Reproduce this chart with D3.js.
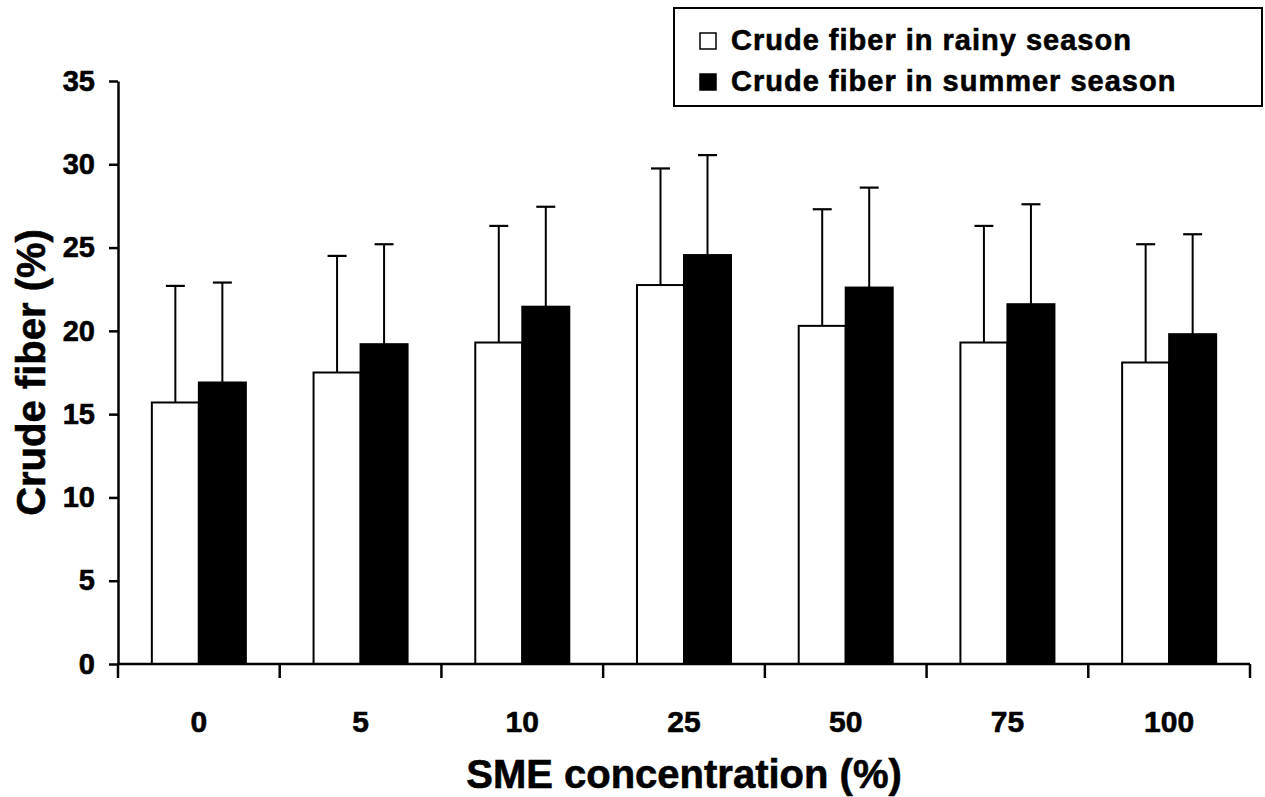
<!DOCTYPE html>
<html>
<head>
<meta charset="utf-8">
<script src="https://cdn.jsdelivr.net/npm/d3@7"></script>
<style>
  body { margin: 0; background: #fff; }
  text { font-family: "Liberation Sans", Arial, sans-serif; font-weight: bold; fill: #000; stroke: #000; stroke-width: 0.6px; }
</style>
</head>
<body>
<div id="chart"></div>
<script>
// chart data
var categories = ['0', '5', '10', '25', '50', '75', '100'];
var seriesNames = ['Crude fiber in rainy season', 'Crude fiber in summer season'];
var rainy = [15.7, 17.5, 19.3, 22.75, 20.3, 19.3, 18.1];
var rainyErr = [7.0, 7.0, 7.0, 7.0, 7.0, 7.0, 7.1];
var summer = [16.9, 19.2, 21.45, 24.55, 22.6, 21.6, 19.8];
var summerErr = [6.0, 6.0, 6.0, 6.0, 6.0, 6.0, 6.0];
var yTicks = [0, 5, 10, 15, 20, 25, 30, 35];

// size of page and plot area
var w = 1265;
var h = 797;
var plotL = 118, plotR = 1250, plotT = 81, plotB = 664;

var svg = d3.select('#chart')
    .append('svg')
    .attr('width', w)
    .attr('height', h);

// scales
var x0 = d3.scaleBand()
    .domain(categories)
    .range([plotL, plotR])
    .padding(0);

var x1 = d3.scaleBand()
    .domain(seriesNames)
    .range([0, x0.bandwidth()])
    .paddingInner(0)
    .paddingOuter(0.72);

var y = d3.scaleLinear()
    .domain([0, 35])
    .range([plotB, plotT]);

// build rows for bars
var rows = [];
categories.forEach(function (c, i) {
    rows.push({ cat: c, s: seriesNames[0], v: rainy[i], e: rainyErr[i], fill: '#fff' });
    rows.push({ cat: c, s: seriesNames[1], v: summer[i], e: summerErr[i], fill: '#000' });
});

// error bars (drawn first so bars sit over the stem)
var err = svg.append('g').attr('class', 'errors');
var capW = 19;
rows.forEach(function (d) {
    var cx = x0(d.cat) + x1(d.s) + x1.bandwidth() / 2;
    err.append('line')
        .attr('x1', cx).attr('x2', cx)
        .attr('y1', y(d.v)).attr('y2', y(d.v + d.e))
        .attr('stroke', '#000').attr('stroke-width', 2);
    err.append('line')
        .attr('x1', cx - capW / 2).attr('x2', cx + capW / 2)
        .attr('y1', y(d.v + d.e)).attr('y2', y(d.v + d.e))
        .attr('stroke', '#000').attr('stroke-width', 2.2);
});

// bars
svg.append('g').attr('class', 'bars')
    .selectAll('rect')
    .data(rows)
    .enter()
    .append('rect')
    .attr('x', function (d) { return x0(d.cat) + x1(d.s); })
    .attr('y', function (d) { return y(d.v); })
    .attr('width', x1.bandwidth())
    .attr('height', function (d) { return y(0) - y(d.v); })
    .attr('fill', function (d) { return d.fill; })
    .attr('stroke', '#000')
    .attr('stroke-width', 2);

// y axis
var yAxis = svg.append('g')
    .attr('transform', 'translate(' + plotL + ',0)')
    .call(d3.axisLeft(y).tickValues(yTicks).tickSize(9).tickSizeOuter(0).tickPadding(14));
yAxis.select('.domain').attr('stroke', '#000').attr('stroke-width', 2.5);
yAxis.selectAll('.tick line').attr('stroke', '#000').attr('stroke-width', 2.5);
yAxis.selectAll('.tick text')
    .attr('font-size', 29)
    .attr('font-family', '"Liberation Sans", Arial, sans-serif')
    .attr('font-weight', 'bold');

// x axis: line, boundary ticks and centred labels
var xAxis = svg.append('g').attr('class', 'x-axis');
xAxis.append('line')
    .attr('x1', plotL).attr('x2', plotR)
    .attr('y1', y(0)).attr('y2', y(0))
    .attr('stroke', '#000').attr('stroke-width', 2.5);
var bounds = categories.map(function (c) { return x0(c); }).concat([plotR]);
xAxis.selectAll('line.tk')
    .data(bounds)
    .enter()
    .append('line')
    .attr('class', 'tk')
    .attr('x1', function (d) { return d; }).attr('x2', function (d) { return d; })
    .attr('y1', y(0)).attr('y2', y(0) + 14)
    .attr('stroke', '#000').attr('stroke-width', 2.5);
xAxis.selectAll('text')
    .data(categories)
    .enter()
    .append('text')
    .attr('x', function (d) { return x0(d) + x0.bandwidth() / 2; })
    .attr('y', 732)
    .attr('text-anchor', 'middle')
    .attr('font-size', 30)
    .text(function (d) { return d; });

// axis titles
svg.append('text')
    .attr('x', (plotL + plotR) / 2)
    .attr('y', 788)
    .attr('text-anchor', 'middle')
    .attr('font-size', 40)
    .text('SME concentration (%)');

svg.append('text')
    .attr('transform', 'translate(45,' + ((plotT + plotB) / 2) + ') rotate(-90)')
    .attr('text-anchor', 'middle')
    .attr('font-size', 40)
    .text('Crude fiber (%)');

// legend
var legend = svg.append('g').attr('class', 'legend');
legend.append('rect')
    .attr('x', 674).attr('y', 8)
    .attr('width', 588).attr('height', 98)
    .attr('fill', '#fff')
    .attr('stroke', '#000').attr('stroke-width', 2);
var legFill = ['#fff', '#000'];
seriesNames.forEach(function (name, i) {
    var by = 50 + i * 41;
    legend.append('rect')
        .attr('x', 700).attr('y', by - 17)
        .attr('width', 16).attr('height', 16)
        .attr('fill', legFill[i])
        .attr('stroke', '#000').attr('stroke-width', 1.5);
    legend.append('text')
        .attr('x', 731).attr('y', by)
        .attr('font-size', 29)
        .attr('letter-spacing', 1.0)
        .text(name);
});
</script>
</body>
</html>
